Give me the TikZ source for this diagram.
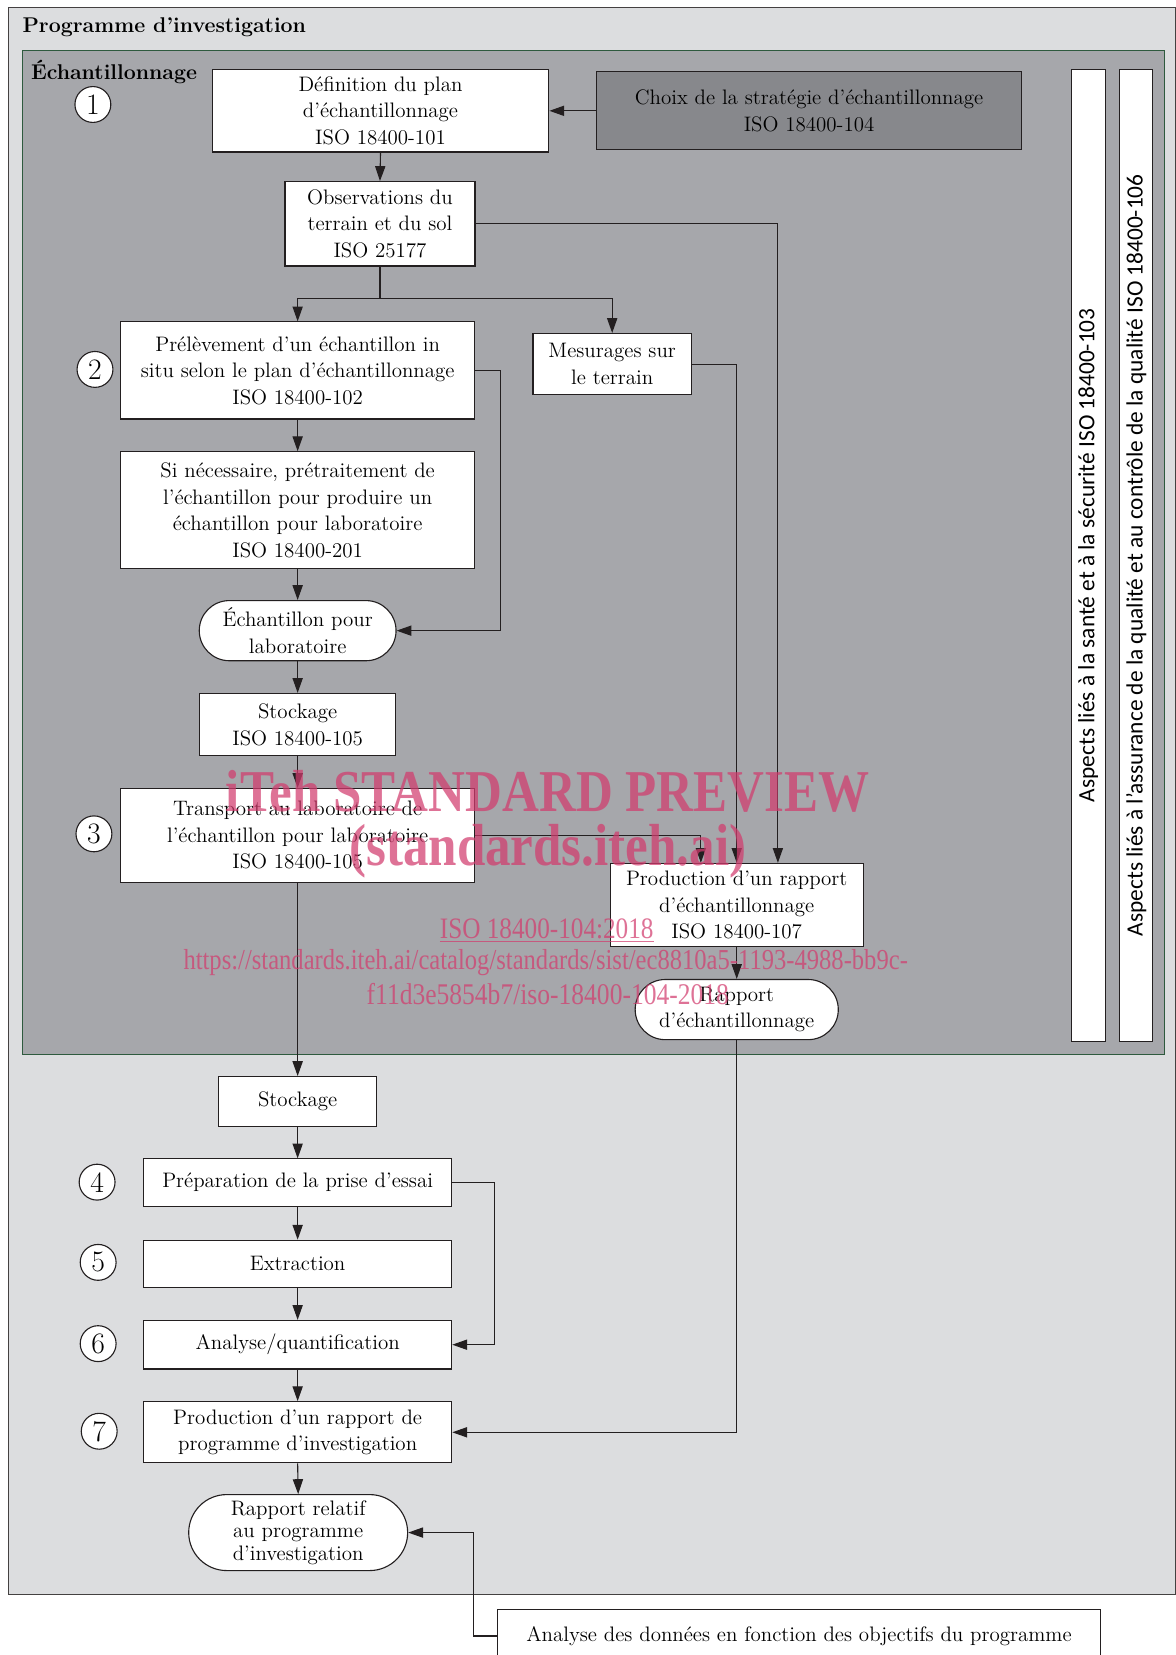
\documentclass[tikz,border=0pt]{standalone}
\usepackage{fontspec}
\newfontfamily\stripfont{Carlito}
\newfontfamily\wmfont{Liberation Serif}
\usepackage{xcolor}
\usepackage{tikz}
\usetikzlibrary{shapes}
\usetikzlibrary{shapes.misc}
\usetikzlibrary{arrows.meta}
\definecolor{outerbg}{HTML}{DCDDDF}
\definecolor{innerbg}{HTML}{A6A7AB}
\definecolor{choixbg}{HTML}{87888C}
\definecolor{framegreen}{HTML}{2E5A3E}
\definecolor{linec}{HTML}{231F20}
\definecolor{wmpink}{RGB}{210,60,110}
\tikzset{
    Box/.style = {rectangle, draw=linec, fill=white, align=center, inner sep=1pt, font=\fontsize{11.3}{14.3}\selectfont},
    darkbox/.style = {Box, fill=choixbg},
    termbox/.style = {rounded rectangle, draw=linec, fill=white, align=center, inner sep=1pt, font=\fontsize{11.3}{14.3}\selectfont},
    numnode/.style = {circle, draw=linec, fill=white, minimum size=0.68cm, inner sep=0pt, font=\fontsize{16}{16}\selectfont},
    striptext/.style = {rotate=90, font=\stripfont\fontsize{12.6}{13}\selectfont},
    wmtext/.style = {text=wmpink, text opacity=0.72, inner sep=0pt},
}

\begin{document}
\begin{tikzpicture}[
    x=0.02cm, y=-0.02cm,
    line width=0.6pt,
    >={Triangle[length=8pt,width=5.5pt]}
  ]
  \useasboundingbox (0,0) rectangle (1114,1568);
  \clip (0,0) rectangle (1114,1568);
  \fill[white] (0,0) rectangle (1114,1568);

  \draw[draw=linec!85, fill=outerbg] (8,7) rectangle (1114,1511);
  \node[anchor=west, font=\bfseries\fontsize{11.5}{14}\selectfont] (prog) at (15,26) {Programme d’investigation};
  \draw[draw=framegreen, fill=innerbg] (21,48) rectangle (1103,999);
  \node[anchor=west, font=\bfseries\fontsize{11.5}{14}\selectfont] (echant) at (23,68) {Échantillonnage};

  \draw[draw=linec, fill=white] (1015,66) rectangle (1047,987);
  \node[striptext] (sante) at (1031,526) {Aspects liés à la santé et à la sécurité ISO 18400-103};
  \draw[draw=linec, fill=white] (1061,66) rectangle (1092,987);
  \node[striptext] (qualite) at (1076.5,526) {Aspects liés à l’assurance de la qualité et au contrôle de la qualité ISO 18400-106};

  \node[numnode] (n1) at (88,99) {1};
  \node[numnode] (n2) at (90,350) {2};
  \node[numnode] (n3) at (89,790) {3};
  \node[numnode] (n4) at (92,1120) {4};
  \node[numnode] (n5) at (93,1196) {5};
  \node[numnode] (n6) at (93,1273) {6};
  \node[numnode] (n7) at (94,1356) {7};

  \node[Box, minimum width=6.38cm, minimum height=1.56cm] (def) at (360.5,105) {Définition du plan\\d’échantillonnage\\ISO 18400-101};
  \node[darkbox, minimum width=8.06cm, minimum height=1.48cm] (choix) at (766.5,105) {Choix de la stratégie d’échantillonnage\\ISO 18400-104};
  \node[Box, minimum width=3.6cm, minimum height=1.6cm] (obs) at (360,212) {Observations du\\terrain et du sol\\ISO 25177};
  \node[Box, minimum width=6.72cm, minimum height=1.84cm] (prel) at (282,351) {Prélèvement d’un échantillon in\\situ selon le plan d’échantillonnage\\ISO 18400-102};
  \node[Box, minimum width=3.0cm, minimum height=1.16cm] (mes) at (580,345) {Mesurages sur\\le terrain};
  \node[Box, minimum width=6.72cm, minimum height=2.22cm] (pret) at (282,483.5) {Si nécessaire, prétraitement de\\l’échantillon pour produire un\\échantillon pour laboratoire\\ISO 18400-201};
  \node[termbox, minimum width=3.8cm, minimum height=1.14cm] (echlab) at (282,597.5) {Échantillon pour\\laboratoire};
  \node[Box, minimum width=3.72cm, minimum height=1.18cm] (stock1) at (282,686.5) {Stockage\\ISO 18400-105};
  \node[Box, minimum width=6.72cm, minimum height=1.78cm] (transp) at (282,791.5) {Transport au laboratoire de\\l’échantillon pour laboratoire\\ISO 18400-105};
  \node[Box, minimum width=4.8cm, minimum height=1.58cm] (prodech) at (698,857.5) {Production d’un rapport\\d’échantillonnage\\ISO 18400-107};
  \node[termbox, minimum width=3.92cm, minimum height=1.14cm] (rapech) at (698,956.5) {Rapport\\d’échantillonnage};

  \node[Box, minimum width=3.0cm, minimum height=0.94cm] (stock2) at (282,1043.5) {Stockage};
  \node[Box, minimum width=5.84cm, minimum height=0.9cm] (prep) at (282,1120.5) {Préparation de la prise d’essai};
  \node[Box, minimum width=5.84cm, minimum height=0.9cm] (extr) at (282,1197.5) {Extraction};
  \node[Box, minimum width=5.84cm, minimum height=0.92cm] (anal) at (282,1274) {Analyse/quantification};
  \node[Box, minimum width=5.84cm, minimum height=1.16cm] (prodprog) at (282,1357) {Production d’un rapport de\\programme d’investigation};
  \node[termbox, minimum width=4.22cm, minimum height=1.44cm, font=\fontsize{11.3}{12.2}\selectfont] (rapprog) at (282.5,1452) {Rapport relatif\\au programme\\d’investigation};
  \node[Box, minimum width=11.44cm, minimum height=1.0cm] (donnees) at (757,1550) {Analyse des données en fonction des objectifs du programme};

  \coordinate (split) at (360,283);
  \draw[draw=linec, ->] (choix.west) -- (def.east);
  \draw[draw=linec, ->] (def.south) -- (obs.north);
  \draw[draw=linec] (obs.south) -- (split);
  \draw[draw=linec, ->] (split) -| (prel.north);
  \draw[draw=linec, ->] (split) -| (mes.north);
  \draw[draw=linec, ->] (obs.east) -| ([xshift=0.78cm]prodech.north);
  \draw[draw=linec, ->] (mes.east) -| (prodech.north);
  \draw[draw=linec, ->] (prel.east) -- ++(0.48cm,0) |- (echlab.east);
  \draw[draw=linec, ->] (prel.south) -- (pret.north);
  \draw[draw=linec, ->] (pret.south) -- (echlab.north);
  \draw[draw=linec, ->] (echlab.south) -- (stock1.north);
  \draw[draw=linec, ->] (stock1.south) -- (transp.north);
  \draw[draw=linec, ->] (transp.east) -| ([xshift=-0.68cm]prodech.north);
  \draw[draw=linec, ->] (transp.south) -- (stock2.north);
  \draw[draw=linec, ->] (prodech.south) -- (rapech.north);
  \draw[draw=linec, ->] (rapech.south) |- (prodprog.east);
  \draw[draw=linec, ->] (stock2.south) -- (prep.north);
  \draw[draw=linec, ->] (prep.south) -- (extr.north);
  \draw[draw=linec, ->] (extr.south) -- (anal.north);
  \draw[draw=linec, ->] (prep.east) -- ++(0.8cm,0) |- (anal.east);
  \draw[draw=linec, ->] (anal.south) -- (prodprog.north);
  \draw[draw=linec, ->] (prodprog.south) -- (rapprog.north);
  \draw[draw=linec, ->] (donnees.west) -- ++(-0.44cm,0) |- (rapprog.east);

  \node[wmtext, font=\wmfont\bfseries\fontsize{32}{32}\selectfont] (wm1) at (519,750) {\scalebox{0.86}[1]{iTeh STANDARD PREVIEW}};
  \node[wmtext, font=\wmfont\bfseries\fontsize{32}{32}\selectfont] (wm2) at (519,806) {\scalebox{0.86}[1]{(standards.iteh.ai)}};
  \node[wmtext, font=\wmfont\fontsize{16}{16}\selectfont] (wm3) at (518,882) {\scalebox{0.85}[1]{\underline{ISO 18400-104:2018}}};
  \node[wmtext, font=\wmfont\fontsize{15.6}{16}\selectfont] (wm4) at (517,912) {\scalebox{0.85}[1]{https://standards.iteh.ai/catalog/standards/sist/ec8810a5-1193-4988-bb9c-}};
  \node[wmtext, font=\wmfont\fontsize{16.2}{16}\selectfont] (wm5) at (519,942) {\scalebox{0.85}[1]{f11d3e5854b7/iso-18400-104-2018}};
\end{tikzpicture}
\end{document}
